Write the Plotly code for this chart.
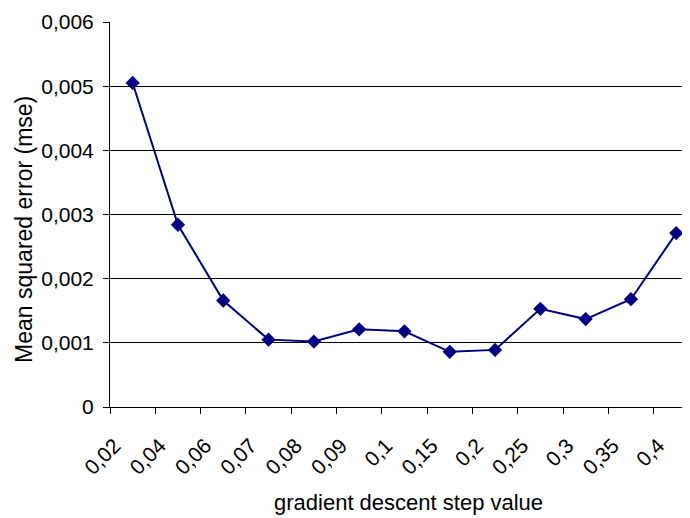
import plotly.graph_objects as go

steps = ["0,02", "0,04", "0,06", "0,07", "0,08", "0,09", "0,1", "0,15", "0,2", "0,25", "0,3", "0,35", "0,4"]
mse = [0.00505, 0.00284, 0.00166, 0.00105, 0.00102, 0.00121, 0.00118, 0.00086, 0.00089, 0.00153, 0.00137, 0.00168, 0.00271]
y_tickvals = [0, 0.001, 0.002, 0.003, 0.004, 0.005, 0.006]
y_ticktext = ["0", "0,001", "0,002", "0,003", "0,004", "0,005", "0,006"]
x_title = "gradient descent step value"
y_title = "Mean squared error (mse)"

FONT = "Liberation Sans, Arial, sans-serif"

fig = go.Figure(go.Scatter(
    x=steps, y=mse, mode="lines+markers",
    line=dict(color="#000080", width=2),
    marker=dict(symbol="diamond", size=11, color="#000080"),
    showlegend=False, cliponaxis=False,
))

fig.update_layout(
    width=690, height=518,
    margin=dict(l=102, r=0, t=14, b=119, autoexpand=False),
    paper_bgcolor="white", plot_bgcolor="white",
    font=dict(family=FONT, size=21, color="black"),
    xaxis=dict(
        type="category", range=[-0.5, 12.48],
        tickangle=-45, tickson="boundaries",
        ticks="outside", ticklen=6, tickcolor="black", tickwidth=1,
        showline=True, linecolor="black", linewidth=1,
        showgrid=False, zeroline=False, automargin=False,
        ticklabelstandoff=17, ticklabelshift=-18,
        tickfont=dict(size=21),
    ),
    yaxis=dict(
        range=[0, 0.006], tickvals=y_tickvals, ticktext=y_ticktext,
        ticks="outside", ticklen=6, tickcolor="black", tickwidth=1,
        showline=True, linecolor="black", linewidth=1,
        showgrid=True, gridcolor="black", gridwidth=1,
        zeroline=False, automargin=False,
        ticklabelstandoff=5,
        tickfont=dict(size=21),
    ),
    annotations=[
        dict(text=x_title, xref="paper", yref="paper", x=0.508, y=-0.249,
             xanchor="center", yanchor="middle", showarrow=False,
             font=dict(size=22)),
        dict(text=y_title, xref="paper", yref="paper", x=0, y=0.46,
             xanchor="center", yanchor="middle", xshift=-86, textangle=-90,
             showarrow=False, font=dict(size=23)),
    ],
)

fig.write_html("out.html")
